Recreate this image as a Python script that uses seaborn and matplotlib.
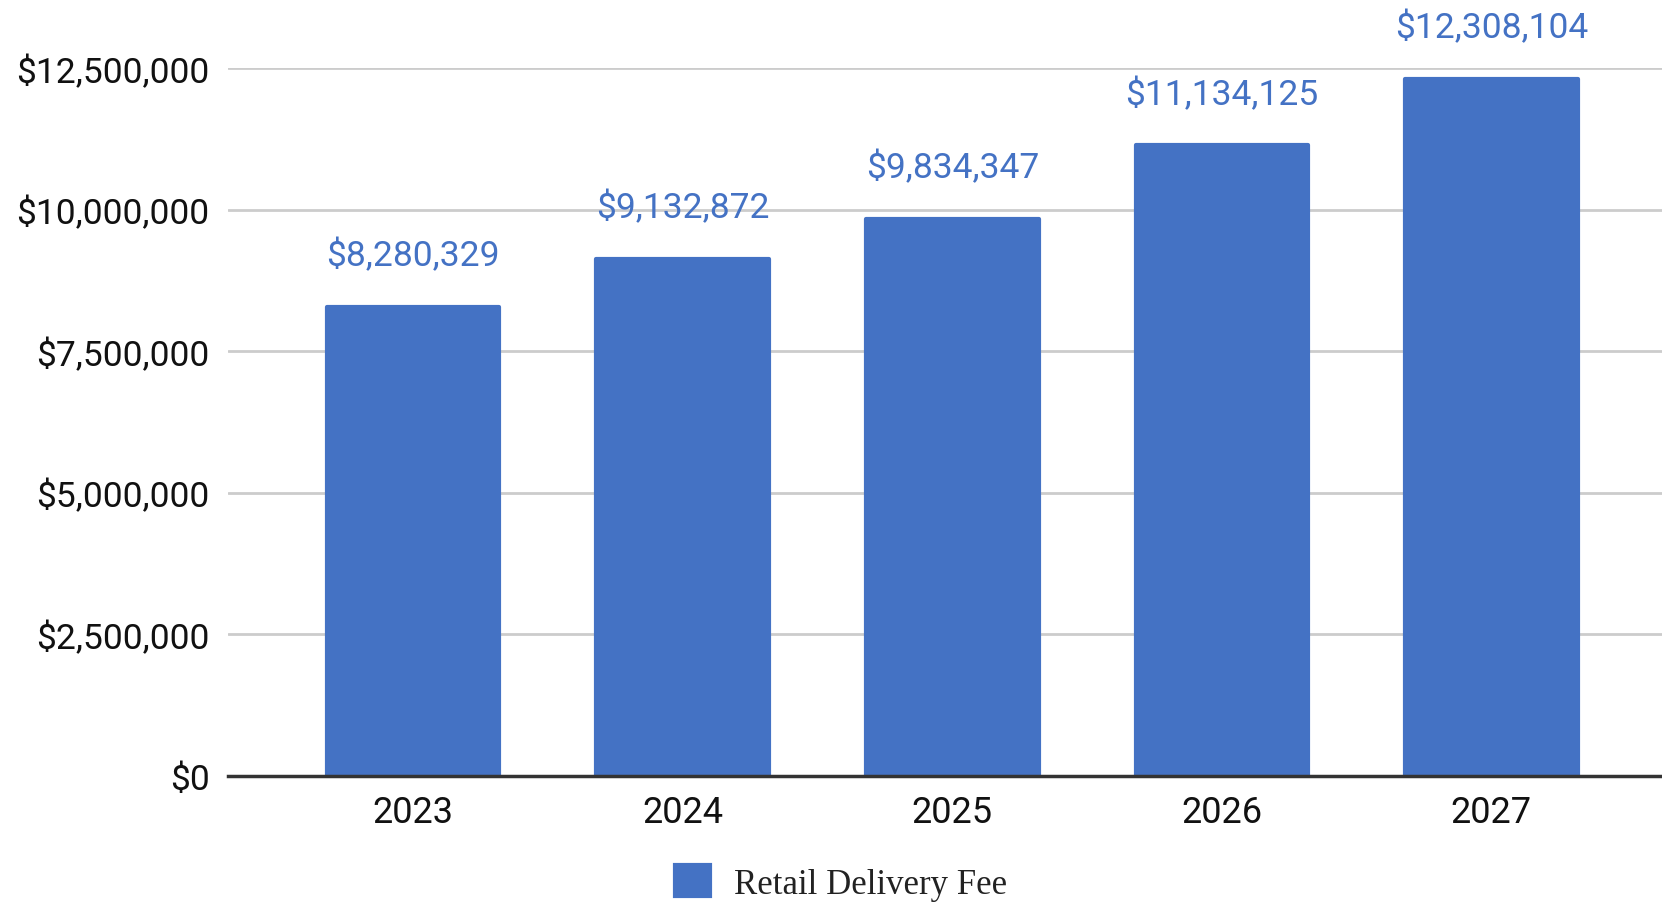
import matplotlib
matplotlib.use("Agg")
import matplotlib.pyplot as plt
import seaborn as sns
import pandas as pd
from matplotlib.ticker import FuncFormatter, MultipleLocator

years = ["2023", "2024", "2025", "2026", "2027"]
fees = [8280329, 9132872, 9834347, 11134125, 12308104]
series_name = "Retail Delivery Fee"

BLUE = "#4472c4"

sns.set_theme(style="white")
plt.rcParams["font.family"] = ["Roboto", "DejaVu Sans"]

df = pd.DataFrame({"Year": years, "Fee": fees})

fig = plt.figure(figsize=(16.62, 9.03), dpi=100)
ax = fig.add_axes([0.137, 0.1395, 0.863, 0.784])

sns.barplot(data=df, x="Year", y="Fee", color=BLUE, saturation=1, width=0.64,
            ax=ax, label=series_name, edgecolor=BLUE, linewidth=3)
for p in ax.patches:
    p.set_joinstyle("round")

ax.set_xlim(-0.688, 4.633)
ax.set_ylim(0, 12500000)
ax.yaxis.set_major_locator(MultipleLocator(2500000))
ax.yaxis.set_major_formatter(FuncFormatter(lambda v, p: f"${v:,.0f}"))
ax.grid(axis="y", color="#cccccc", linewidth=2)
ax.set_axisbelow(True)
for s in ["top", "right", "left"]:
    ax.spines[s].set_visible(False)
ax.spines["bottom"].set_color("#333333")
ax.spines["bottom"].set_linewidth(2.5)
ax.spines["bottom"].set_zorder(5)
ax.tick_params(axis="y", length=0, pad=13, labelsize=25.5, labelcolor="#111111")
ax.tick_params(axis="x", length=0, pad=13, labelsize=26, labelcolor="#111111")
ax.set_xlabel("")
ax.set_ylabel("")

for i, v in enumerate(fees):
    ax.annotate(f"${v:,.0f}", (i, v), xytext=(0, 30), textcoords="offset points",
                ha="center", va="baseline", fontsize=25.5, color=BLUE,
                annotation_clip=False)

leg = ax.legend(loc="center", bbox_to_anchor=(0.5063, 0.021),
                bbox_transform=fig.transFigure, frameon=False,
                prop={"family": "Liberation Serif", "size": 25},
                handlelength=1.0, handleheight=1.0, handletextpad=0.7,
                borderpad=0)
for t in leg.get_texts():
    t.set_color("#222222")

fig.savefig("out.png", dpi=100)
